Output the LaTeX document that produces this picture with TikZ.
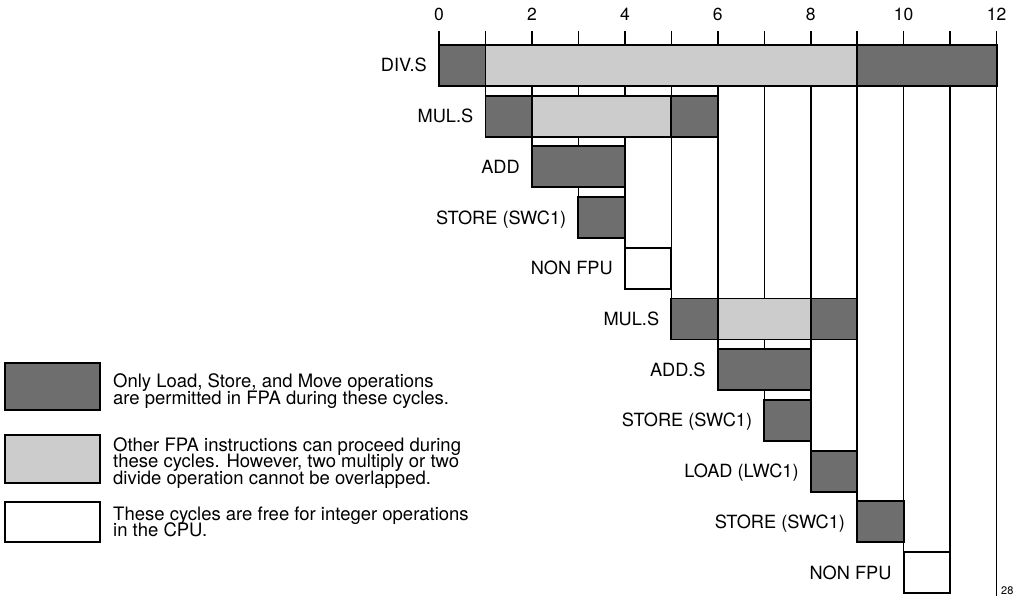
\documentclass[tikz,border=0pt]{standalone}
\usepackage{fontspec}
\setmainfont{TeX Gyre Heros}
\definecolor{darkfill}{gray}{0.43}
\definecolor{lightfill}{gray}{0.80}
\begin{document}
\begin{tikzpicture}[x=1pt,y=-1pt,line join=miter,
  gridline/.style={line width=1.5pt},
  barline/.style={line width=1.9pt},
  legbox/.style={line width=1.3pt},
  lbl/.style={font=\fontsize{18.2}{16.7}\selectfont, inner sep=0pt},
  num/.style={font=\fontsize{17.5}{17}\selectfont, inner sep=0pt},
  legtxt/.style={font=\fontsize{18.5}{16.7}\selectfont, inner sep=0pt, anchor=base west}]
\useasboundingbox (0,0) rectangle (1013,596);
\def\X#1{439+46.47*#1}
\def\Y#1{45+50.7*#1}
\newcommand\cyc[4]{\draw[barline, fill=#4] ({\X{#1}},{\Y{#3}}) rectangle ({\X{#2}},{\Y{#3}+41});}
% vertical cycle lines
\foreach \k/\r in {0/0,1/1,2/2,3/3,4/4,5/5,6/6,7/7,8/8,9/9,10/10,11/10}
  \draw[gridline] ({\X{\k}},31) -- ({\X{\k}},{\Y{\r}+41});
\draw[gridline] ({\X{12}},31) -- ({\X{12}},596);
% axis numbers
\foreach \k in {0,2,4,6,8,10,12}
  \node[num] (n\k) at ({\X{\k}},14.5) {\k};
% bars
\cyc{0}{1}{0}{darkfill}
\cyc{1}{9}{0}{lightfill}
\cyc{9}{12}{0}{darkfill}
\cyc{1}{2}{1}{darkfill}
\cyc{2}{5}{1}{lightfill}
\cyc{5}{6}{1}{darkfill}
\cyc{2}{4}{2}{darkfill}
\cyc{3}{4}{3}{darkfill}
\cyc{4}{5}{4}{white}
\cyc{5}{6}{5}{darkfill}
\cyc{6}{8}{5}{lightfill}
\cyc{8}{9}{5}{darkfill}
\cyc{6}{8}{6}{darkfill}
\cyc{7}{8}{7}{darkfill}
\cyc{8}{9}{8}{darkfill}
\cyc{9}{10}{9}{darkfill}
\cyc{10}{11}{10}{white}
% row labels
\foreach \i/\s/\t in {0/0/DIV.S,1/1/MUL.S,2/2/ADD,3/3/STORE (SWC1),4/4/NON FPU,5/5/MUL.S,6/6/ADD.S,7/7/STORE (SWC1),8/8/LOAD (LWC1),9/9/STORE (SWC1),10/10/NON FPU}
  \node[lbl, anchor=base east] (lab\i) at ({\X{\s}-12},{\Y{\i}+27}) {\t};
% legend
\draw[legbox, fill=darkfill] (5,363) rectangle (100,410);
\draw[legbox, fill=lightfill] (5,435) rectangle (100,483);
\draw[legbox, fill=white] (5,502) rectangle (100,542);
\node[legtxt] (la1) at (113,388) {Only Load, Store, and Move operations};
\node[legtxt] (la2) at (113,404.5) {are permitted in FPA during these cycles.};
\node[legtxt] (lb1) at (113,451) {Other FPA instructions can proceed during};
\node[legtxt] (lb2) at (113,467.5) {these cycles. However, two multiply or two};
\node[legtxt] (lb3) at (113,484) {divide operation cannot be overlapped.};
\node[legtxt] (lc1) at (113,520) {These cycles are free for integer operations};
\node[legtxt] (lc2) at (113,536.5) {in the CPU.};
\node[font=\fontsize{11}{11}\selectfont, inner sep=0pt, anchor=base west] (fig) at (1001,594.5) {28};
\end{tikzpicture}
\end{document}
